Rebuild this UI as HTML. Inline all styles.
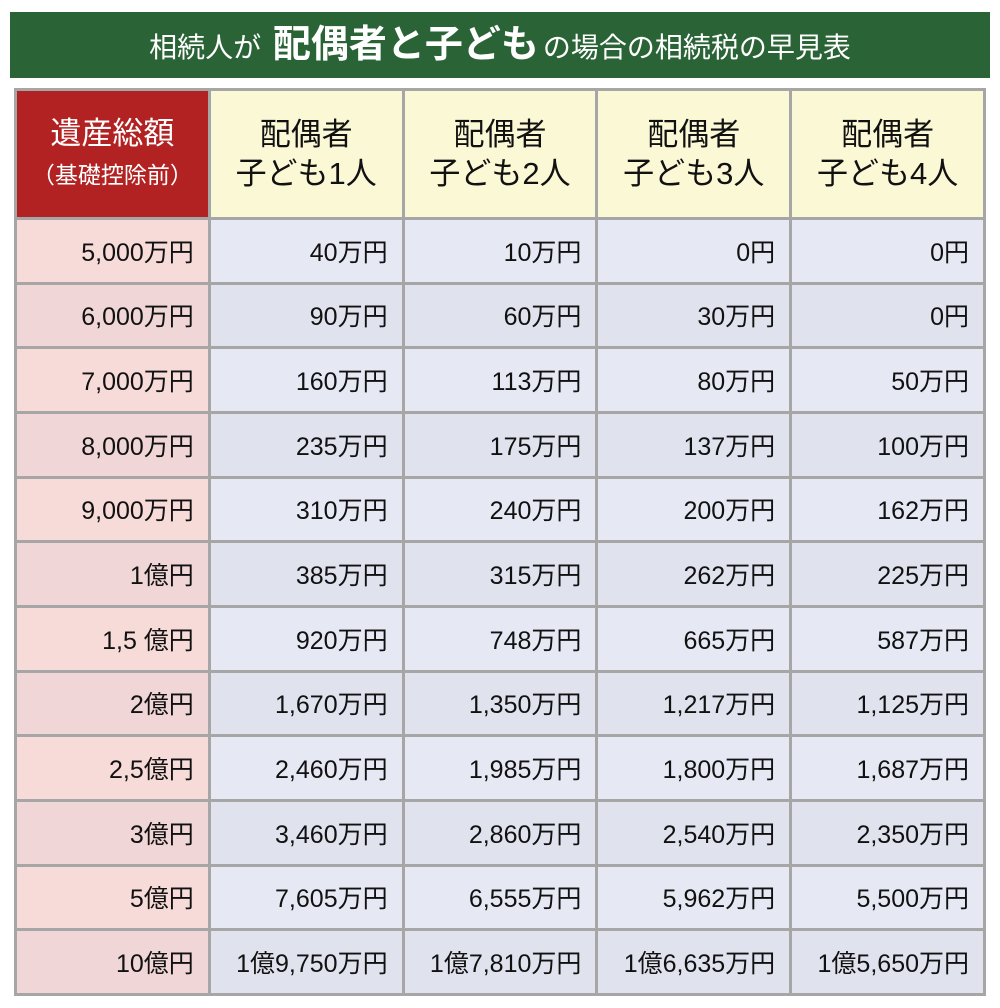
<!DOCTYPE html>
<html><head><meta charset="utf-8"><style>
body{margin:0;width:1000px;height:1008px;background:#fff;font-family:"Liberation Sans","Noto Sans CJK JP",sans-serif;position:relative;overflow:hidden}
.title{position:absolute;left:10px;top:12px;width:980px;height:66px;background:#2a6336;color:#fff;text-align:center;line-height:66px;font-size:28px;white-space:nowrap}
.title b{font-size:38px;font-weight:bold;margin:0 4px}
.tbl{position:absolute;left:14px;top:88px;width:966px;height:902px;padding:3px;background:#a6a6a6;display:grid;grid-template-columns:repeat(5,1fr);grid-template-rows:126px repeat(12,1fr);gap:3px}
.tbl div{display:flex;align-items:center;justify-content:flex-end;padding-right:14px;font-size:25px;color:#111}
.h{justify-content:center!important;padding:0!important;text-align:center;font-size:31px!important;line-height:39px;background:#fbf8d6}
.h0{background:#b22222;color:#fff!important;font-size:31px!important}
.h0 small{font-size:23px}
.a0{background:#f7dbd9}.a{background:#e6e8f4}
.b0{background:#f0d6d6}.b{background:#e0e2ee}
</style></head><body>
<div class="title">相続人が <b>配偶者と子ども</b>の場合の相続税の早見表</div>
<div class="tbl">
<div class="h h0"><span>遺産総額<br><small>（基礎控除前）</small></span></div>
<div class="h"><span>配偶者<br>子ども1人</span></div>
<div class="h"><span>配偶者<br>子ども2人</span></div>
<div class="h"><span>配偶者<br>子ども3人</span></div>
<div class="h"><span>配偶者<br>子ども4人</span></div>
<div class="a0">5,000万円</div><div class="a">40万円</div><div class="a">10万円</div><div class="a">0円</div><div class="a">0円</div>
<div class="b0">6,000万円</div><div class="b">90万円</div><div class="b">60万円</div><div class="b">30万円</div><div class="b">0円</div>
<div class="a0">7,000万円</div><div class="a">160万円</div><div class="a">113万円</div><div class="a">80万円</div><div class="a">50万円</div>
<div class="b0">8,000万円</div><div class="b">235万円</div><div class="b">175万円</div><div class="b">137万円</div><div class="b">100万円</div>
<div class="a0">9,000万円</div><div class="a">310万円</div><div class="a">240万円</div><div class="a">200万円</div><div class="a">162万円</div>
<div class="b0">1億円</div><div class="b">385万円</div><div class="b">315万円</div><div class="b">262万円</div><div class="b">225万円</div>
<div class="a0">1,5 億円</div><div class="a">920万円</div><div class="a">748万円</div><div class="a">665万円</div><div class="a">587万円</div>
<div class="b0">2億円</div><div class="b">1,670万円</div><div class="b">1,350万円</div><div class="b">1,217万円</div><div class="b">1,125万円</div>
<div class="a0">2,5億円</div><div class="a">2,460万円</div><div class="a">1,985万円</div><div class="a">1,800万円</div><div class="a">1,687万円</div>
<div class="b0">3億円</div><div class="b">3,460万円</div><div class="b">2,860万円</div><div class="b">2,540万円</div><div class="b">2,350万円</div>
<div class="a0">5億円</div><div class="a">7,605万円</div><div class="a">6,555万円</div><div class="a">5,962万円</div><div class="a">5,500万円</div>
<div class="b0">10億円</div><div class="b">1億9,750万円</div><div class="b">1億7,810万円</div><div class="b">1億6,635万円</div><div class="b">1億5,650万円</div>
</div>
</body></html>
